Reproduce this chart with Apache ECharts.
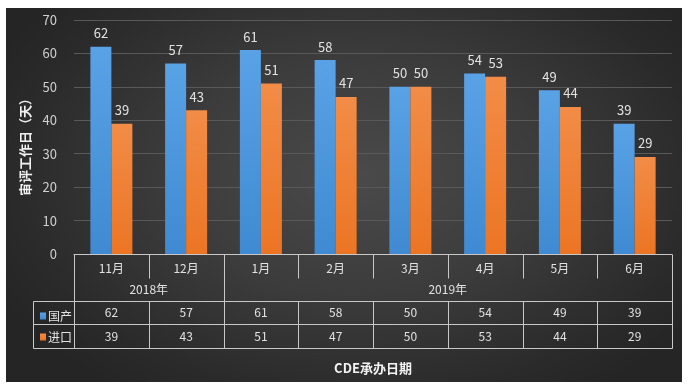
<!DOCTYPE html>
<html><head><meta charset="utf-8">
<script src="https://cdn.jsdelivr.net/npm/echarts@6/dist/echarts.min.js"></script>
<style>
html,body{margin:0;padding:0;background:#fff;}
#wrap{position:relative;width:688px;height:387px;background:#fff;}
#bg{position:absolute;left:6px;top:8px;width:676px;height:374px;
 background:radial-gradient(ellipse 60% 70% at 52% 45%, #4a4a4a 0%, #3c3c3c 45%, #2a2a2a 85%, #252525 100%);}
#chart{position:absolute;left:0;top:0;width:688px;height:387px;}
</style></head>
<body><div id="wrap"><div id="bg"></div><div id="chart"></div></div>
<script>
const months = ['11月','12月','1月','2月','3月','4月','5月','6月'];
const yearLabels = ['2018年','2019年'];
const yearSpans = [2,6];
const seriesNames = ['国产','进口'];
const domestic = [62,57,61,58,50,54,49,39];
const imported = [39,43,51,47,50,53,44,29];
const yMin = 0, yMax = 70, yStep = 10;
const yTitle = '审评工作日（天）';
const xTitle = 'CDE承办日期';

const FONT = '"Microsoft YaHei","Noto Sans CJK SC",sans-serif';
const LINE = '#c8c8c8';
const TXT = '#e2e2e2';

const chart = echarts.init(document.getElementById('chart'), null, {renderer:'canvas'});
const gridL = 74, gridR = 16, gridT = 20, gridB = 133;
const rowH = [24, 23, 23, 24];

const blue = new echarts.graphic.LinearGradient(0,0,0,1,[{offset:0,color:'#5aa2e6'},{offset:1,color:'#3f8ad2'}]);
const orange = new echarts.graphic.LinearGradient(0,0,0,1,[{offset:0,color:'#f28c47'},{offset:1,color:'#ec7524'}]);

const option = {
  backgroundColor: 'transparent',
  animation: false,
  textStyle: {fontFamily: FONT},
  grid: {left: gridL, right: gridR, top: gridT, bottom: gridB, containLabel: false},
  legend: {
    data: seriesNames, orient: 'vertical', left: 35, top: 305, itemWidth: 6, itemHeight: 7,
    itemGap: 9, icon: 'rect', textStyle: {color: TXT, fontSize: 12, fontFamily: FONT, padding:[0,0,0,-3]}
  },
  xAxis: {
    type: 'category', data: months,
    axisLine: {show: true, lineStyle: {color: LINE, width: 1}},
    axisTick: {show: false},
    axisLabel: {color: TXT, fontSize: 12, margin: 8, interval: 0},
    name: xTitle, nameLocation: 'middle', nameGap: 108,
    nameTextStyle: {color: '#f2f2f2', fontSize: 13, fontWeight: 'bold', fontFamily: FONT}
  },
  yAxis: {
    type: 'value', min: yMin, max: yMax, interval: yStep,
    axisLine: {show: false}, axisTick: {show: false},
    axisLabel: {color: '#d0d0d0', fontSize: 13, margin: 17},
    splitLine: {lineStyle: {color: '#595959', width: 1}},
    name: yTitle, nameLocation: 'middle', nameRotate: 90, nameGap: 41,
    nameTextStyle: {color: '#f0f0f0', fontSize: 13, fontWeight: 'bold', fontFamily: FONT, padding:[0,0,0,-14]}
  },
  series: [
    {name: seriesNames[0], type: 'bar', data: domestic, barWidth: 21, barGap: '0%',
     itemStyle: {color: blue},
     label: {show: true, position: 'top', color: TXT, fontSize: 13, distance: 7}},
    {name: seriesNames[1], type: 'bar', data: imported, barWidth: 21,
     itemStyle: {color: orange},
     label: {show: true, position: 'top', color: TXT, fontSize: 13, distance: 7}}
  ]
};
chart.setOption(option);

function buildTable(){
  const c0 = chart.convertToPixel({xAxisIndex:0}, 0);
  const c1 = chart.convertToPixel({xAxisIndex:0}, 1);
  const bw = c1 - c0;
  const x0 = c0 - bw/2;
  const n = months.length;
  const xEnd = x0 + n*bw;
  const yTop = chart.convertToPixel({yAxisIndex:0}, 0);
  const rows = [yTop];
  rowH.forEach(h => rows.push(rows[rows.length-1] + h));
  const legendLeft = 33;
  const els = [];
  const line = (x1,y1,x2,y2) => els.push({type:'line', silent:true, shape:{x1:Math.round(x1)+0.5,y1:Math.round(y1)+0.5,x2:Math.round(x2)+0.5,y2:Math.round(y2)+0.5}, style:{stroke:LINE, lineWidth:1}});
  const text = (t,x,y) => els.push({type:'text', silent:true, x:x, y:y, style:{text:t, fill:TXT, font:'12px '+FONT, align:'center', verticalAlign:'middle'}});
  for (let r = 2; r <= 4; r++) line(legendLeft, rows[r], xEnd, rows[r]);
  line(legendLeft, rows[2], legendLeft, rows[4]);
  let yearBounds = [0]; let acc = 0;
  yearSpans.forEach(s => {acc += s; yearBounds.push(acc);});
  for (let i = 0; i <= n; i++) {
    const x = x0 + i*bw;
    if (yearBounds.indexOf(i) >= 0) line(x, rows[0], x, rows[4]);
    else { line(x, rows[0], x, rows[1]); line(x, rows[2], x, rows[4]); }
  }
  for (let k = 0; k < yearLabels.length; k++) {
    const xa = x0 + yearBounds[k]*bw, xb = x0 + yearBounds[k+1]*bw;
    text(yearLabels[k], (xa+xb)/2, (rows[1]+rows[2])/2);
  }
  [domestic, imported].forEach((arr, r) => {
    arr.forEach((v, i) => text(String(v), x0 + (i+0.5)*bw, (rows[2+r]+rows[3+r])/2));
  });
  chart.setOption({graphic: {elements: els}});
}
buildTable();
</script></body></html>
